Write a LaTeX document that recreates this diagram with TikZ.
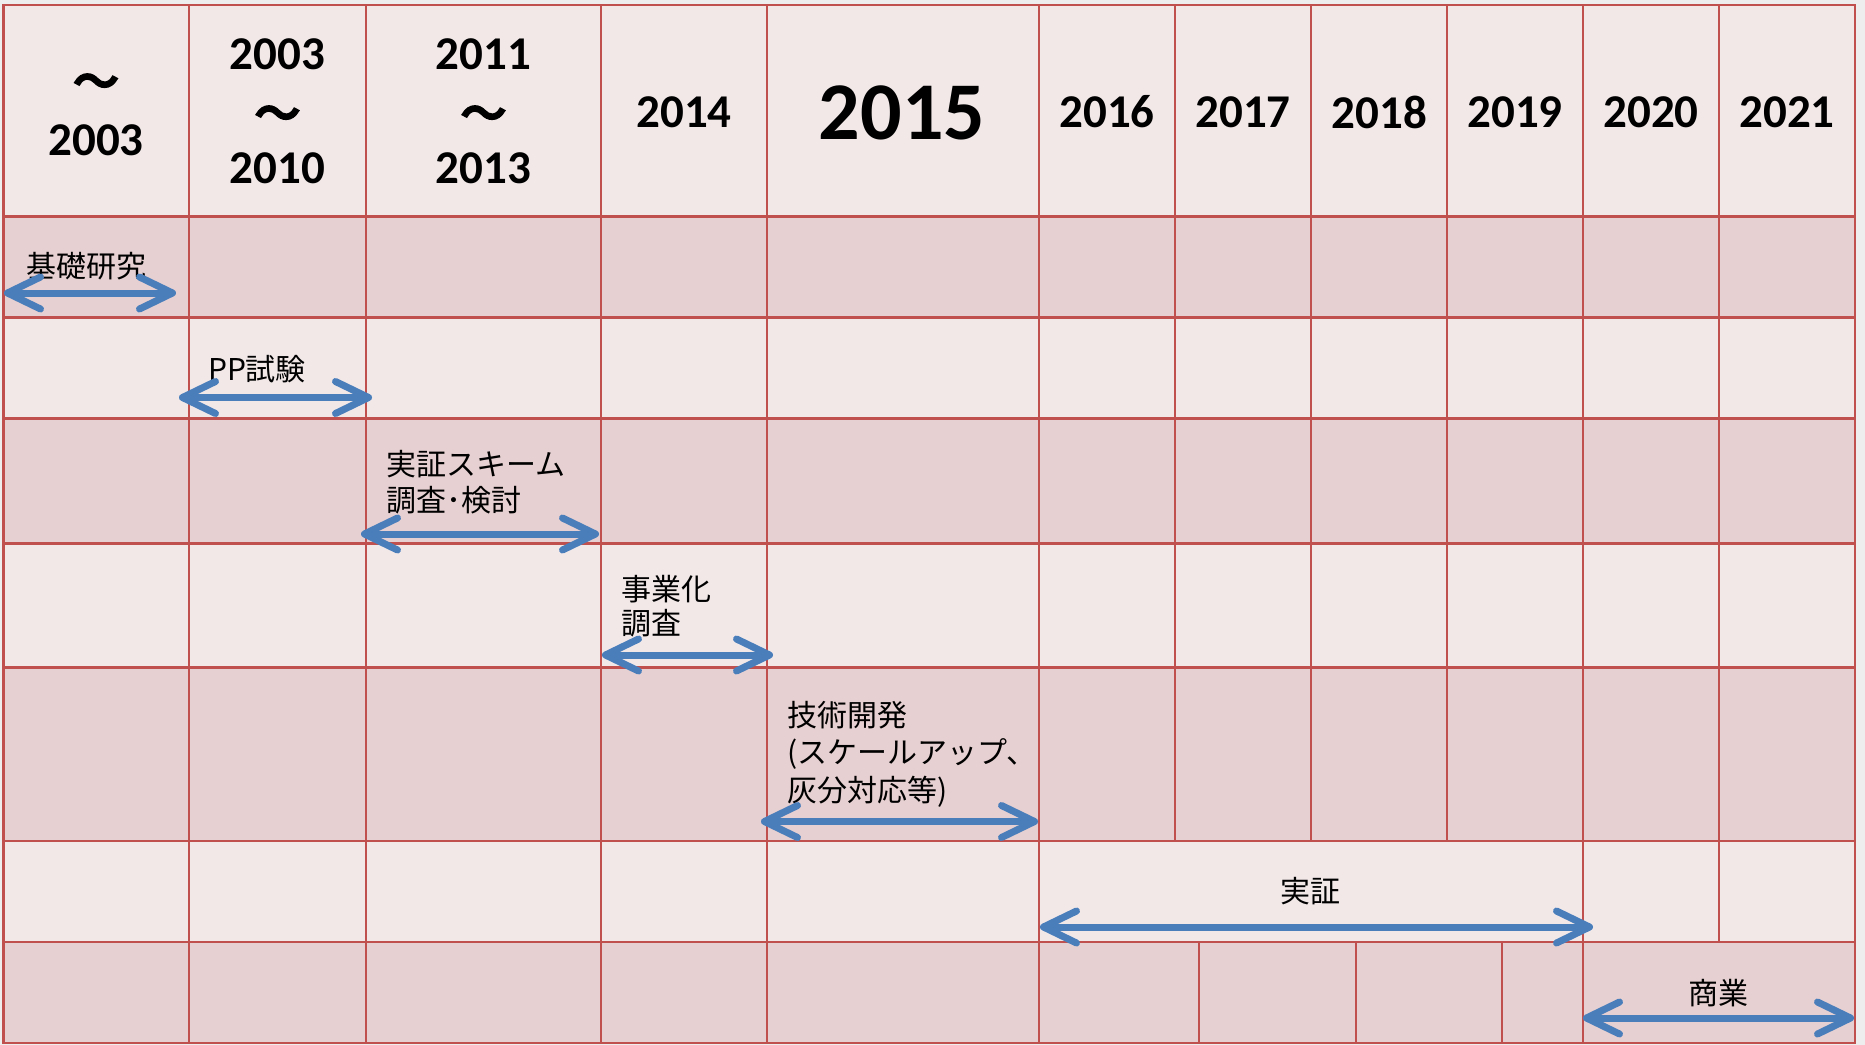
\documentclass[tikz,border=0pt]{standalone}
\usepackage{fontspec}
\setmainfont{Carlito}
\newfontfamily\cjk{Noto Sans CJK JP}
\newfontfamily\cjkheavy{Noto Sans CJK JP}[FakeBold=7]
\usetikzlibrary{arrows.meta}
\definecolor{gridred}{HTML}{C0504D}
\definecolor{lightrow}{HTML}{F2E8E8}
\definecolor{darkrow}{HTML}{E7D0D1}
\definecolor{arrblue}{HTML}{4A7EBB}
\definecolor{bgcol}{HTML}{EEEEEE}
\begin{document}
\begin{tikzpicture}[x=0.5pt,y=-0.5pt,
  yr/.style={font=\fontsize{23.5}{28}\selectfont\bfseries, inner sep=0pt},
  bigyr/.style={font=\fontsize{41}{48}\selectfont\bfseries, inner sep=0pt},
  tld/.style={font=\cjkheavy\fontsize{22}{26}\selectfont, inner sep=0pt},
  lbl/.style={font=\cjk\fontsize{15}{18}\selectfont, inner sep=0pt},
  tipb/.tip={Straight Barb[length=16.5pt,width=16pt,round]},
  duration/.style={draw=arrblue, line width=3.5pt, tipb-tipb},
  gl/.style={draw=gridred, line width=1.3pt, line cap=rect}]
\useasboundingbox (0,0) rectangle (1865,1045);
\fill[bgcol] (0,0) rectangle (1865,1045);
% row fills
\fill[lightrow] (3.6,4.8) rectangle (1855,216.5);
\fill[darkrow]  (3.6,216.5) rectangle (1855,317.6);
\fill[lightrow] (3.6,317.6) rectangle (1855,418.7);
\fill[darkrow]  (3.6,418.7) rectangle (1855,543.6);
\fill[lightrow] (3.6,543.6) rectangle (1855,667.3);
\fill[darkrow]  (3.6,667.3) rectangle (1855,841);
\fill[lightrow] (3.6,841) rectangle (1855,942);
\fill[darkrow]  (3.6,942) rectangle (1855,1043);
% horizontal grid lines
\foreach \yy in {4.8,216.5,317.6,418.7,543.6,667.3,841,942,1043}
  \draw[gl] (3.6,\yy) -- (1855,\yy);
% vertical grid lines
\foreach \xx in {3.6,189,366,601,767,1039,1583,1855}
  \draw[gl] (\xx,4.8) -- (\xx,1043);
\foreach \xx in {1175,1311,1447}
  \draw[gl] (\xx,4.8) -- (\xx,841);
\draw[gl] (1719,4.8) -- (1719,942);
\foreach \xx in {1199,1356,1502}
  \draw[gl] (\xx,942) -- (\xx,1043);
% header
\node[tld] (h1a) at (96,86) {～};
\node[yr]  (h1b) at (96,140) {2003};
\node[yr]  (h2a) at (277.5,54) {2003};
\node[tld] (h2b) at (277.5,118) {～};
\node[yr]  (h2c) at (277.5,168) {2010};
\node[yr]  (h3a) at (483.5,54) {2011};
\node[tld] (h3b) at (483.5,118) {～};
\node[yr]  (h3c) at (483.5,168) {2013};
\node[yr]  (h4) at (684,112) {2014};
\node[bigyr] (h5) at (902,112.5) {2015};
\node[yr]  (h6) at (1107,112) {2016};
\node[yr]  (h7) at (1243,112) {2017};
\node[yr]  (h8) at (1379.5,112) {2018};
\node[yr]  (h9) at (1515,112) {2019};
\node[yr]  (h10) at (1651,112) {2020};
\node[yr]  (h11) at (1787,112) {2021};
% labels
\node[lbl] (l1) at (86,266) {基礎研究};
\node[lbl] (l2) at (257,369) {PP試験};
\node[lbl,anchor=west] (l3a) at (386,464) {実証スキーム};
\node[lbl,anchor=west] (l3b) at (386,500) {調査･検討};
\node[lbl,anchor=west] (l4a) at (621,589) {事業化};
\node[lbl,anchor=west] (l4b) at (621,623) {調査};
\node[lbl,anchor=west] (l5a) at (787,715) {技術開発};
\node[lbl,anchor=west] (l5b) at (787,754) {(スケールアップ、};
\node[lbl,anchor=west] (l5c) at (787,792) {灰分対応等)};
\node[lbl] (l6) at (1310,891) {実証};
\node[lbl] (l7) at (1718.6,993) {商業};
% arrows
\coordinate (a1s) at (4,293);     \coordinate (a1e) at (176,293);
\coordinate (a2s) at (179,397.5); \coordinate (a2e) at (372,397.5);
\coordinate (a3s) at (361,534);   \coordinate (a3e) at (599,534);
\coordinate (a4s) at (602,655);   \coordinate (a4e) at (773,655);
\coordinate (a5s) at (761,821.5); \coordinate (a5e) at (1038,821.5);
\coordinate (a6s) at (1040,927);  \coordinate (a6e) at (1593,927);
\coordinate (a7s) at (1583,1018); \coordinate (a7e) at (1854,1018);
\draw[duration] (a1s) -- (a1e);
\draw[duration] (a2s) -- (a2e);
\draw[duration] (a3s) -- (a3e);
\draw[duration] (a4s) -- (a4e);
\draw[duration] (a5s) -- (a5e);
\draw[duration] (a6s) -- (a6e);
\draw[duration] (a7s) -- (a7e);
\end{tikzpicture}
\end{document}
